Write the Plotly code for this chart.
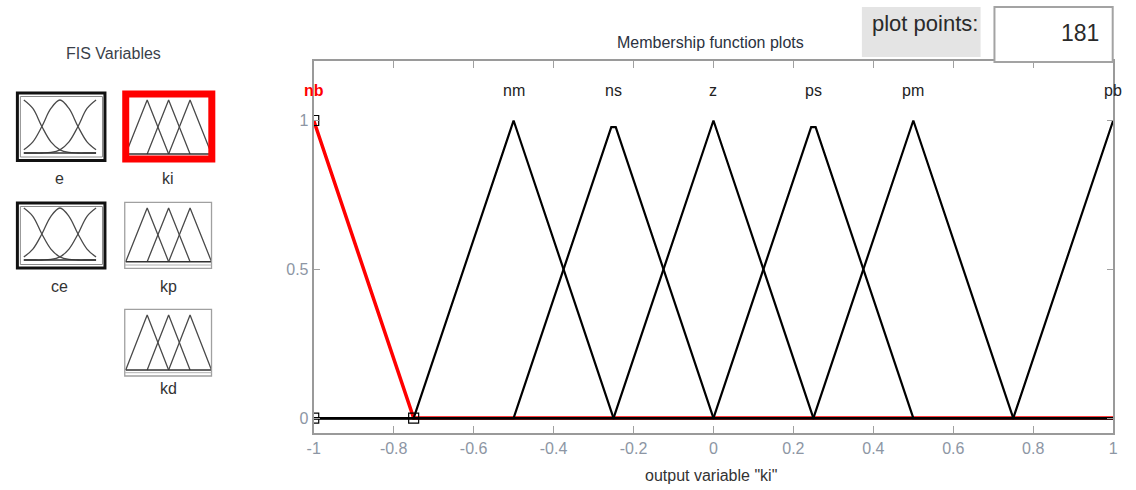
import plotly.graph_objects as go

W, H = 1136, 490

# ---- output variable "ki": membership functions (breakpoints of each curve) ----
mf_names = ["nb", "nm", "ns", "z", "ps", "pm", "pb"]
nb_x = [-1.0, -0.75, 1.0]
nb_y = [1.0, 0.0, 0.0]
nm_x = [-1.0, -0.75, -0.5, -0.25, 1.0]
nm_y = [0.0, 0.0, 1.0, 0.0, 0.0]
ns_x = [-1.0, -0.5, -0.2556, -0.2444, 0.0, 1.0]
ns_y = [0.0, 0.0, 0.978, 0.978, 0.0, 0.0]
z_x = [-1.0, -0.25, 0.0, 0.25, 1.0]
z_y = [0.0, 0.0, 1.0, 0.0, 0.0]
ps_x = [-1.0, 0.0, 0.2444, 0.2556, 0.5, 1.0]
ps_y = [0.0, 0.0, 0.978, 0.978, 0.0, 0.0]
pm_x = [-1.0, 0.25, 0.5, 0.75, 1.0]
pm_y = [0.0, 0.0, 1.0, 0.0, 0.0]
pb_x = [-1.0, 0.75, 1.0]
pb_y = [0.0, 0.0, 1.0]

mf_label_x = [-1.0, -0.5, -0.25, 0.0, 0.25, 0.5, 1.0]
mf_label_y = 1.1

# vertex handles of the selected function (nb)
handle_x = [-1.0, -1.0, -0.75]
handle_y = [1.0, 0.0, 0.0]

x_tick_vals = [-1.0, -0.8, -0.6, -0.4, -0.2, 0.0, 0.2, 0.4, 0.6, 0.8, 1.0]
x_tick_text = ["-1", "-0.8", "-0.6", "-0.4", "-0.2", "0", "0.2", "0.4", "0.6", "0.8", "1"]
y_tick_vals = [0.0, 0.5, 1.0]
y_tick_text = ["0", "0.5", "1"]
plot_points = 181

# ---- thumbnails of the FIS variables ----
var_names = ["e", "ce", "ki", "kp", "kd"]
bell_x = [-1.0, -0.75, -0.5, -0.25, 0.0, 0.25, 0.5, 0.75, 1.0]
bell_left_y = [1.0, 0.84, 0.5, 0.21, 0.06, 0.01, 0.0, 0.0, 0.0]
bell_mid_y = [0.06, 0.21, 0.5, 0.84, 1.0, 0.84, 0.5, 0.21, 0.06]
bell_right_y = [0.0, 0.0, 0.0, 0.01, 0.06, 0.21, 0.5, 0.84, 1.0]
tri_left_x = [-1.0, -0.5, 0.0]
tri_mid_x = [-0.5, 0.0, 0.5]
tri_right_x = [0.0, 0.5, 1.0]
tri_y = [0.0, 1.0, 0.0]
base_x = [-1.0, 1.0]
base_y = [0.0, 0.0]

FONT = "Liberation Sans, Arial, sans-serif"
TICK_GREY = "#8d96a4"
FRAME_GREY = "#9a9a9a"


def px(x):
    return x / W


def py(y):
    return 1 - y / H


fig = go.Figure()

# main membership function plot
fig.add_trace(go.Scatter(x=nb_x, y=nb_y, mode="lines",
                         line=dict(color="#ff0000", width=3.5), hoverinfo="skip"))
for xs, ys in [(nm_x, nm_y), (ns_x, ns_y), (z_x, z_y), (ps_x, ps_y), (pm_x, pm_y), (pb_x, pb_y)]:
    fig.add_trace(go.Scatter(x=xs, y=ys, mode="lines",
                             line=dict(color="#000000", width=2.2), hoverinfo="skip"))
fig.add_trace(go.Scatter(x=handle_x, y=handle_y, mode="markers",
                         marker=dict(symbol="square-open", size=10,
                                     color="#000000", line=dict(width=1.2)),
                         hoverinfo="skip"))


# thumbnail axes: place x=-1..1 and y=0..1 at given pixel positions
def thumb_axes(idx, x_left, x_right, y_top, y_base, pad=0.15):
    sx = (x_right - x_left) / 2.0
    sy = (y_base - y_top)
    fig.layout["xaxis%d" % idx] = dict(
        domain=[px(x_left - pad * sx), px(x_right + pad * sx)],
        range=[-1 - pad, 1 + pad], visible=False, fixedrange=True,
        anchor="y%d" % idx)
    fig.layout["yaxis%d" % idx] = dict(
        domain=[py(y_base + pad * sy), py(y_top - pad * sy)],
        range=[-pad, 1 + pad], visible=False, fixedrange=True,
        anchor="x%d" % idx)


thumb_geom = {
    "e": (2, 17, 90, 100, 153),
    "ce": (3, 17, 90, 208, 260),
    "ki": (4, 120, 206.7, 100, 154),
    "kp": (5, 120, 206.7, 208, 261.7),
    "kd": (6, 120, 206.7, 315, 370),
}
ICON = dict(color="#4a4a4a", width=1.3)
for name in var_names:
    idx, xl, xr, yt, yb = thumb_geom[name]
    thumb_axes(idx, xl, xr, yt, yb)
    xa, ya = "x%d" % idx, "y%d" % idx
    if name in ("e", "ce"):
        curves = [(bell_x, bell_left_y), (bell_x, bell_mid_y), (bell_x, bell_right_y)]
        shape = "spline"
    else:
        curves = [(tri_left_x, tri_y), (tri_mid_x, tri_y), (tri_right_x, tri_y)]
        shape = "linear"
    for xs, ys in curves:
        fig.add_trace(go.Scatter(x=xs, y=ys, mode="lines", line=dict(ICON, shape=shape),
                                 xaxis=xa, yaxis=ya, hoverinfo="skip", cliponaxis=False))
    fig.add_trace(go.Scatter(x=base_x, y=base_y, mode="lines",
                             line=dict(color="#333333", width=1.6),
                             xaxis=xa, yaxis=ya, hoverinfo="skip"))

shapes = []


def rect(x0, y0, x1, y1, color, width, fill=None, layer="above"):
    shapes.append(dict(type="rect", xref="paper", yref="paper",
                       x0=px(x0), x1=px(x1), y0=py(y1), y1=py(y0),
                       line=dict(color=color, width=width),
                       fillcolor=fill if fill else "rgba(0,0,0,0)", layer=layer))


def hline(x0, x1, y, color, width):
    shapes.append(dict(type="line", xref="paper", yref="paper",
                       x0=px(x0), x1=px(x1), y0=py(y), y1=py(y),
                       line=dict(color=color, width=width), layer="above"))


# thumbnail frames
rect(10.5, 93, 99, 160.5, "#111111", 3)
rect(13.5, 96.5, 96.5, 157, "#8a8a8a", 1)
rect(10.5, 203, 99, 268, "#111111", 3)
rect(13.5, 206.5, 96.5, 264.5, "#8a8a8a", 1)
rect(120, 94, 207, 159, "#ff0000", 7)
rect(119, 202.3, 206.7, 268.3, "#a0a0a0", 1.3)
hline(119, 206.7, 265, "#b0b0b0", 1)
rect(119, 309.3, 206.7, 376, "#a0a0a0", 1.3)
hline(119, 206.7, 372.7, "#b0b0b0", 1)

# "plot points" widget
rect(864, 7, 984, 57, "rgba(0,0,0,0)", 0, fill="#e4e4e4", layer="below")
rect(998, 7, 1117.5, 62, "#a3a3a3", 2, fill="#ffffff")

annotations = []


def text(x, y, s, size=16, color="#333333", xanchor="center", bold=False, xref="paper", yref="paper"):
    annotations.append(dict(
        x=px(x) if xref == "paper" else x, y=py(y) if yref == "paper" else y,
        xref=xref, yref=yref, text="<b>%s</b>" % s if bold else s,
        showarrow=False, xanchor=xanchor, yanchor="middle",
        font=dict(family=FONT, size=size, color=color)))


text(108, 54, "FIS Variables", color="#3a3f4a")
text(53, 179, "e")
text(163, 179, "ki")
text(53, 286, "ce")
text(163, 286, "kp")
text(163, 388, "kd")
text(711, 42, "Membership function plots", color="#2b3240")
text(928, 23, "plot points:", size=22, color="#2a2a2a")
text(1106, 33, str(plot_points), size=23, color="#2a2a2a", xanchor="right")
text(712, 475, "output variable \"ki\"", color="#333333")

for name, lx in zip(mf_names, mf_label_x):
    if name == "nb":
        text(lx, mf_label_y, name, color="#ff0000", bold=True, xref="x", yref="y")
    else:
        text(lx, mf_label_y, name, color="#222222", xref="x", yref="y")

fig.update_layout(
    width=W, height=H,
    margin=dict(l=0, r=0, t=0, b=0),
    paper_bgcolor="#ffffff", plot_bgcolor="#ffffff",
    showlegend=False,
    font=dict(family=FONT, size=16, color="#333333"),
    shapes=shapes, annotations=annotations,
    xaxis=dict(domain=[px(310), px(1118)], range=[-1, 1],
               tickvals=x_tick_vals, ticktext=x_tick_text,
               ticks="inside", ticklen=7, tickwidth=1, tickcolor="#a0a0a0",
               showline=True, linecolor=FRAME_GREY, linewidth=2, mirror="ticks",
               showgrid=False, zeroline=False, fixedrange=True,
               tickfont=dict(family=FONT, size=16, color=TICK_GREY)),
    yaxis=dict(domain=[py(433), py(61)], range=[-0.05, 1.2],
               tickvals=y_tick_vals, ticktext=y_tick_text,
               ticks="inside", ticklen=6, tickwidth=1, tickcolor="#a0a0a0",
               showline=True, linecolor=FRAME_GREY, linewidth=2, mirror="ticks",
               showgrid=False, zeroline=False, fixedrange=True,
               tickfont=dict(family=FONT, size=16, color=TICK_GREY)),
)

fig.write_html("out.html")
